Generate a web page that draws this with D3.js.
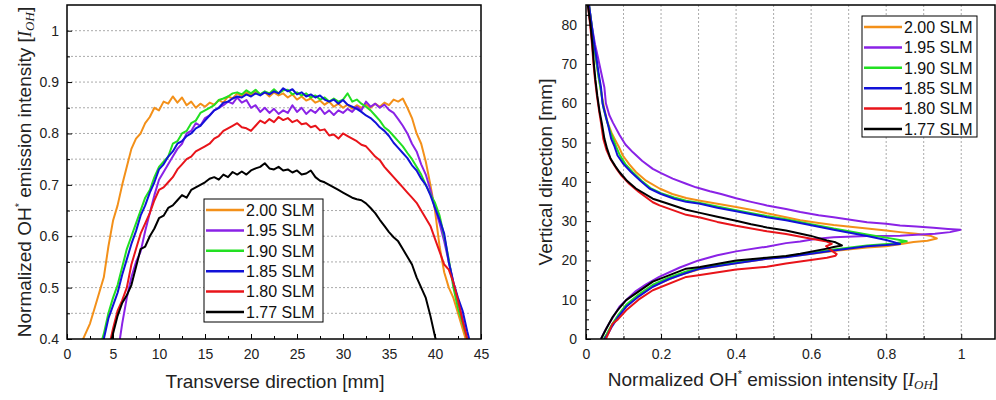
<!DOCTYPE html>
<html>
<head>
<meta charset="utf-8">
<script src="https://cdn.jsdelivr.net/npm/d3@7"></script>
<style>
  body { margin: 0; background: #fff; }
  svg { display: block; font-family: "Liberation Sans", Arial, sans-serif; }
</style>
</head>
<body>
<div id="chart"></div>
<script>
// ---- data ----
var flowLabels = ["2.00 SLM", "1.95 SLM", "1.90 SLM", "1.85 SLM", "1.80 SLM", "1.77 SLM"];
var lineColors = ["#f39019", "#8a22e6", "#22e022", "#1212d8", "#e8141a", "#000000"];

// left panel: transverse position [mm] and normalized intensity per flow rate
var transverseMm = [1.5, 2, 2.5, 3, 3.5, 4, 4.5, 5, 5.5, 6, 6.5, 7, 7.5, 8, 8.5, 9, 9.5, 10, 10.5, 11,
  11.5, 12, 12.5, 13, 13.5, 14, 14.5, 15, 15.5, 16, 16.5, 17, 17.5, 18, 18.5, 19, 19.5, 20, 20.5, 21,
  21.5, 22, 22.5, 23, 23.5, 24, 24.5, 25, 25.5, 26, 26.5, 27, 27.5, 28, 28.5, 29, 29.5, 30, 30.5, 31,
  31.5, 32, 32.5, 33, 33.5, 34, 34.5, 35, 35.5, 36, 36.5, 37, 37.5, 38, 38.5, 39, 39.5, 40, 40.5, 41,
  41.5, 42, 42.5, 43, 43.5, 44];

var tr200 = [0.39, 0.41, 0.43, 0.46, 0.49, 0.52, 0.58, 0.63, 0.66, 0.70,
  0.735, 0.77, 0.79, 0.80, 0.82, 0.832, 0.85, 0.845, 0.862, 0.858,
  0.872, 0.86, 0.87, 0.855, 0.862, 0.85, 0.858, 0.852, 0.86, 0.856,
  0.865, 0.86, 0.872, 0.868, 0.878, 0.872, 0.88, 0.874, 0.882, 0.876,
  0.88, 0.872, 0.88, 0.874, 0.878, 0.87, 0.876, 0.866, 0.872, 0.864,
  0.868, 0.86, 0.864, 0.856, 0.862, 0.852, 0.858, 0.85, 0.856, 0.848,
  0.855, 0.85, 0.856, 0.85, 0.858, 0.852, 0.86, 0.855, 0.866, 0.862,
  0.868, 0.85, 0.83, 0.80, 0.78, 0.745, 0.70, 0.65, 0.58, 0.53,
  0.50, 0.48, 0.45, 0.42, 0.39, null];
var tr195 = [null, null, null, null, null, null, null, null,
  0.37, 0.43, 0.48, 0.52, 0.55, 0.57, 0.61, 0.645, 0.68, 0.71,
  0.725, 0.74, 0.755, 0.77, 0.78, 0.80, 0.805, 0.82, 0.815, 0.83,
  0.835, 0.845, 0.85, 0.855, 0.862, 0.858, 0.87, 0.86, 0.865, 0.85,
  0.855, 0.842, 0.85, 0.84, 0.848, 0.838, 0.845, 0.84, 0.855, 0.842,
  0.85, 0.838, 0.846, 0.84, 0.85, 0.838, 0.845, 0.836, 0.845, 0.84,
  0.848, 0.842, 0.852, 0.845, 0.862, 0.852, 0.858, 0.85, 0.856, 0.846,
  0.84, 0.828, 0.815, 0.80, 0.78, 0.765, 0.74, 0.72, 0.69, 0.655,
  0.625, 0.59, 0.55, 0.51, 0.475, 0.44, 0.40, 0.38];
var tr190 = [null, null, null, null,
  0.38, 0.41, 0.45, 0.48, 0.505, 0.54, 0.575, 0.60, 0.625, 0.65,
  0.675, 0.69, 0.715, 0.735, 0.745, 0.755, 0.78, 0.785, 0.80, 0.805,
  0.82, 0.825, 0.84, 0.845, 0.85, 0.855, 0.865, 0.868, 0.872, 0.878,
  0.88, 0.876, 0.884, 0.878, 0.885, 0.876, 0.882, 0.878, 0.886, 0.878,
  0.884, 0.885, 0.876, 0.88, 0.874, 0.878, 0.87, 0.874, 0.866, 0.87,
  0.862, 0.868, 0.862, 0.866, 0.878, 0.862, 0.866, 0.858, 0.852, 0.845,
  0.835, 0.825, 0.812, 0.805, 0.795, 0.785, 0.775, 0.762, 0.75, 0.735,
  0.72, 0.70, 0.682, 0.665, 0.64, 0.60, 0.555, 0.50, 0.46, 0.43,
  0.40, 0.38];
var tr185 = [null, null, null, null,
  0.38, 0.40, 0.44, 0.465, 0.49, 0.525, 0.555, 0.585, 0.61, 0.64,
  0.66, 0.685, 0.705, 0.73, 0.74, 0.755, 0.765, 0.78, 0.785, 0.795,
  0.80, 0.81, 0.815, 0.825, 0.835, 0.845, 0.85, 0.86, 0.862, 0.868,
  0.872, 0.87, 0.876, 0.872, 0.878, 0.874, 0.88, 0.876, 0.882, 0.878,
  0.888, 0.882, 0.886, 0.876, 0.88, 0.872, 0.876, 0.87, 0.874, 0.866,
  0.862, 0.866, 0.858, 0.865, 0.856, 0.852, 0.848, 0.842, 0.835, 0.83,
  0.822, 0.812, 0.805, 0.795, 0.782, 0.772, 0.762, 0.752, 0.738, 0.728,
  0.712, 0.70, 0.68, 0.655, 0.632, 0.605, 0.55, 0.51, 0.48, 0.455,
  0.415, 0.38];
var tr180 = [null, null, null, null, null, null,
  0.38, 0.42, 0.455, 0.475, 0.50, 0.545, 0.575, 0.605, 0.625, 0.645,
  0.67, 0.69, 0.695, 0.705, 0.715, 0.73, 0.74, 0.75, 0.755, 0.765,
  0.77, 0.775, 0.78, 0.79, 0.795, 0.805, 0.81, 0.815, 0.82, 0.812,
  0.81, 0.805, 0.815, 0.825, 0.82, 0.828, 0.822, 0.832, 0.826, 0.83,
  0.822, 0.826, 0.818, 0.82, 0.812, 0.815, 0.806, 0.808, 0.796, 0.798,
  0.79, 0.80, 0.795, 0.79, 0.785, 0.778, 0.775, 0.765, 0.755, 0.748,
  0.735, 0.725, 0.715, 0.705, 0.695, 0.685, 0.675, 0.665, 0.65, 0.635,
  0.62, 0.595, 0.57, 0.545, 0.535, 0.51, 0.475, 0.435, 0.40, 0.37];
var tr177 = [null, null, null, null, null, null,
  0.37, 0.41, 0.445, 0.47, 0.485, 0.505, 0.54, 0.575, 0.58, 0.60,
  0.615, 0.635, 0.64, 0.655, 0.66, 0.67, 0.68, 0.675, 0.69, 0.695,
  0.70, 0.705, 0.712, 0.715, 0.71, 0.72, 0.715, 0.725, 0.72, 0.726,
  0.72, 0.728, 0.732, 0.735, 0.742, 0.732, 0.73, 0.735, 0.728, 0.73,
  0.724, 0.728, 0.72, 0.722, 0.728, 0.715, 0.708, 0.705, 0.70, 0.695,
  0.69, 0.685, 0.68, 0.675, 0.672, 0.67, 0.664, 0.655, 0.645, 0.632,
  0.62, 0.608, 0.598, 0.59, 0.575, 0.56, 0.545, 0.52, 0.50, 0.48,
  0.445, 0.405, 0.37,
  null, null, null, null, null, null, null];

// right panel: [normalized intensity, vertical position mm], top to bottom
var vp200 = [[0.008, 85], [0.014, 80], [0.02, 75], [0.027, 71], [0.035, 66], [0.042, 62], [0.05, 58],
  [0.058, 55], [0.068, 52.5], [0.076, 51], [0.087, 49], [0.098, 46.7], [0.115, 44.5], [0.133, 42.5],
  [0.16, 40.3], [0.196, 38.3], [0.23, 36.9], [0.267, 35.9], [0.304, 35.2], [0.35, 34.4], [0.40, 33.6],
  [0.45, 32.7], [0.482, 32.0], [0.533, 31.0], [0.571, 30.2], [0.62, 29.5], [0.66, 29.0], [0.749, 28.1],
  [0.80, 27.6], [0.837, 27.2], [0.88, 26.8], [0.917, 26.3], [0.935, 25.6], [0.91, 25.0], [0.873, 24.7],
  [0.84, 24.2], [0.80, 23.6], [0.749, 23.3], [0.66, 22.4], [0.571, 21.3], [0.482, 20.4], [0.40, 19.3],
  [0.304, 17.8], [0.25, 16.3], [0.178, 13.4], [0.14, 11.0], [0.107, 8.4], [0.085, 5.8], [0.07, 3.6],
  [0.058, 1.6], [0.05, 0]];
var vp195 = [[0.008, 85], [0.015, 80], [0.024, 75], [0.031, 72], [0.04, 68], [0.049, 64], [0.053, 60],
  [0.062, 57], [0.072, 55], [0.089, 52], [0.105, 49.5], [0.125, 47.5], [0.15, 45.3], [0.178, 43.3],
  [0.2, 42.2], [0.231, 40.8], [0.267, 39.5], [0.293, 38.6], [0.33, 37.6], [0.36, 36.9], [0.40, 35.8],
  [0.44, 34.9], [0.482, 34.0], [0.533, 33.1], [0.571, 32.3], [0.62, 31.5], [0.66, 31.0], [0.70, 30.4],
  [0.749, 29.7], [0.80, 29.3], [0.837, 28.9], [0.88, 28.6], [0.926, 28.3], [0.965, 28.0], [0.998, 27.8],
  [0.97, 27.2], [0.93, 26.8], [0.88, 26.5], [0.837, 26.3], [0.749, 26.2], [0.66, 25.9], [0.615, 25.5],
  [0.571, 24.8], [0.533, 24.4], [0.482, 23.5], [0.40, 22.3], [0.35, 21.3], [0.30, 20.0], [0.25, 18.2],
  [0.195, 15.8], [0.16, 13.9], [0.133, 12.2], [0.11, 10.2], [0.089, 8.2], [0.075, 6.0], [0.062, 4.0],
  [0.05, 2.0], [0.04, 0]];
var vp190 = [[0.008, 85], [0.015, 80], [0.021, 75], [0.027, 71], [0.033, 67], [0.04, 63], [0.046, 59],
  [0.054, 56], [0.064, 53], [0.072, 51], [0.08, 49], [0.09, 46.8], [0.105, 44.5], [0.124, 42.5],
  [0.148, 40.3], [0.172, 38.4], [0.2, 37.1], [0.235, 36.0], [0.267, 35.2], [0.304, 34.6], [0.35, 33.7],
  [0.40, 32.8], [0.482, 31.3], [0.533, 30.5], [0.597, 29.3], [0.66, 28.1], [0.749, 26.6], [0.80, 25.8],
  [0.855, 24.9], [0.82, 24.3], [0.749, 23.8], [0.66, 22.8], [0.571, 21.6], [0.533, 21.0], [0.482, 20.6],
  [0.40, 19.6], [0.304, 18.1], [0.267, 17.2], [0.22, 15.6], [0.178, 13.8], [0.14, 11.3], [0.107, 8.7],
  [0.085, 6.0], [0.068, 3.5], [0.055, 1.2], [0.047, 0]];
var vp185 = [[0.008, 85], [0.015, 80], [0.022, 75], [0.027, 72], [0.033, 68], [0.04, 64], [0.044, 60],
  [0.052, 57], [0.06, 54], [0.067, 51], [0.076, 49], [0.084, 46.7], [0.1, 44.5], [0.12, 42.5],
  [0.145, 40.3], [0.169, 38.3], [0.2, 36.9], [0.235, 35.7], [0.267, 34.9], [0.304, 34.4], [0.35, 33.4],
  [0.40, 32.5], [0.482, 31.0], [0.533, 30.2], [0.597, 29.0], [0.66, 27.8], [0.749, 26.2], [0.80, 25.2],
  [0.837, 24.2], [0.80, 23.9], [0.749, 23.6], [0.66, 22.5], [0.571, 21.3], [0.533, 20.8], [0.482, 20.4],
  [0.40, 19.3], [0.304, 17.9], [0.267, 16.8], [0.22, 15.2], [0.178, 13.3], [0.14, 10.8], [0.107, 8.2],
  [0.085, 5.5], [0.068, 3.0], [0.058, 1.2], [0.049, 0]];
var vp180 = [[0.005, 85], [0.011, 80], [0.016, 75], [0.02, 70], [0.024, 66], [0.029, 62], [0.035, 58],
  [0.04, 55], [0.046, 51], [0.055, 48], [0.067, 45.5], [0.08, 43.5], [0.095, 41.5], [0.115, 39.5],
  [0.14, 37.5], [0.178, 34.8], [0.196, 34.0], [0.267, 31.6], [0.304, 30.9], [0.35, 29.8], [0.40, 28.8],
  [0.482, 27.4], [0.533, 26.7], [0.597, 25.6], [0.642, 24.8], [0.655, 24.2], [0.64, 23.6], [0.65, 22.8],
  [0.668, 21.6], [0.665, 21.2], [0.642, 20.7], [0.571, 19.7], [0.533, 19.2], [0.482, 18.4], [0.40, 17.7],
  [0.304, 16.3], [0.267, 15.8], [0.178, 12.4], [0.14, 10.0], [0.107, 7.3], [0.085, 5.0], [0.071, 3.9],
  [0.06, 1.5], [0.053, 0]];
var vp177 = [[0.005, 85], [0.012, 80], [0.017, 75], [0.021, 70], [0.025, 66], [0.03, 62], [0.036, 58],
  [0.042, 55], [0.049, 51], [0.056, 48.5], [0.065, 46], [0.078, 44], [0.089, 42.5], [0.11, 40.2],
  [0.133, 38.3], [0.178, 35.7], [0.213, 34.6], [0.267, 32.9], [0.304, 32.1], [0.35, 31.1], [0.40, 30.1],
  [0.44, 29.2], [0.482, 28.4], [0.533, 27.6], [0.597, 26.3], [0.642, 25.1], [0.665, 24.6], [0.682, 23.8],
  [0.66, 23.4], [0.642, 23.0], [0.571, 21.7], [0.533, 21.1], [0.482, 20.7], [0.40, 20.0], [0.304, 18.3],
  [0.267, 17.9], [0.178, 14.6], [0.107, 9.9], [0.085, 7.4], [0.071, 5.6], [0.055, 2.8], [0.04, 0]];

// ticks
var leftXTicks = [0, 5, 10, 15, 20, 25, 30, 35, 40, 45];
var leftXMinor = [2.5, 7.5, 12.5, 17.5, 22.5, 27.5, 32.5, 37.5, 42.5];
var leftYTicks = [0.4, 0.5, 0.6, 0.7, 0.8, 0.9, 1];
var leftYMinor = [0.45, 0.55, 0.65, 0.75, 0.85, 0.95];
var leftGrid = [0.45, 0.5, 0.55, 0.6, 0.65, 0.7, 0.75, 0.8, 0.85, 0.9, 0.95, 1];
var rightXTicks = [0, 0.2, 0.4, 0.6, 0.8, 1];
var rightXMinor = [0.1, 0.3, 0.5, 0.7, 0.9];
var rightGrid = [0.1, 0.2, 0.3, 0.4, 0.5, 0.6, 0.7, 0.8, 0.9, 1];
var rightYTicks = [0, 10, 20, 30, 40, 50, 60, 70, 80];
var rightYMinor = [2.5, 5, 7.5, 12.5, 15, 17.5, 22.5, 25, 27.5, 32.5, 35, 37.5, 42.5, 45, 47.5,
  52.5, 55, 57.5, 62.5, 65, 67.5, 72.5, 75, 77.5, 82.5];

var transverseSeries = [tr200, tr195, tr190, tr185, tr180, tr177];
var verticalSeries = [vp200, vp195, vp190, vp185, vp180, vp177];

// ---- drawing ----
var svg = d3.select("#chart").append("svg")
    .attr("width", 996)
    .attr("height", 400);

var xL = d3.scaleLinear().domain([0, 45]).range([67, 481]);
var yL = d3.scaleLinear().domain([0.4, 1.05]).range([339, 5]);
var xR = d3.scaleLinear().domain([0, 1.09]).range([586, 995]);
var yR = d3.scaleLinear().domain([0, 85]).range([339, 5]);

var defs = svg.append("defs");
defs.append("clipPath").attr("id", "clipL").append("rect")
    .attr("x", xL(0)).attr("y", yL(1.05))
    .attr("width", xL(45) - xL(0)).attr("height", yL(0.4) - yL(1.05));
defs.append("clipPath").attr("id", "clipR").append("rect")
    .attr("x", xR(0)).attr("y", yR(85))
    .attr("width", xR(1.09) - xR(0)).attr("height", yR(0) - yR(85));

// grid lines
svg.append("g").selectAll("line").data(leftGrid).join("line")
    .attr("x1", xL(0)).attr("x2", xL(45))
    .attr("y1", d => yL(d)).attr("y2", d => yL(d))
    .attr("stroke", "#aaa").attr("stroke-width", 1)
    .attr("stroke-dasharray", "2,2");
svg.append("g").selectAll("line").data(rightGrid).join("line")
    .attr("x1", d => xR(d)).attr("x2", d => xR(d))
    .attr("y1", yR(0)).attr("y2", yR(85))
    .attr("stroke", "#aaa").attr("stroke-width", 1)
    .attr("stroke-dasharray", "2,2");

// left curves
var lineL = d3.line()
    .defined(d => d[1] != null)
    .x(d => xL(d[0]))
    .y(d => yL(d[1]));

var gL = svg.append("g").attr("clip-path", "url(#clipL)");
transverseSeries.forEach(function (vals, i) {
    var pts = transverseMm.map((x, j) => [x, vals[j]]);
    gL.append("path")
        .datum(pts)
        .attr("d", lineL)
        .attr("fill", "none")
        .attr("stroke", lineColors[i])
        .attr("stroke-width", 2)
        .attr("stroke-linejoin", "round");
});

// right curves
var lineR = d3.line()
    .x(d => xR(d[0]))
    .y(d => yR(d[1]));

var gR = svg.append("g").attr("clip-path", "url(#clipR)");
verticalSeries.forEach(function (pts, i) {
    gR.append("path")
        .datum(pts)
        .attr("d", lineR)
        .attr("fill", "none")
        .attr("stroke", lineColors[i])
        .attr("stroke-width", 2)
        .attr("stroke-linejoin", "round");
});

// axes (ticks point inward)
function styleAxis(g) {
    g.select(".domain").remove();
    g.selectAll("line").attr("stroke", "#000").attr("stroke-width", 1);
    g.selectAll("text").attr("font-size", 14).attr("fill", "#222")
        .attr("font-family", "'Liberation Sans', Arial, sans-serif");
}

svg.append("g").attr("transform", "translate(0," + yL(0.4) + ")")
    .call(d3.axisBottom(xL).tickValues(leftXTicks).tickSizeInner(-5).tickSizeOuter(0).tickPadding(10))
    .call(styleAxis);
svg.append("g").attr("transform", "translate(0," + yL(0.4) + ")")
    .call(d3.axisBottom(xL).tickValues(leftXMinor).tickSizeInner(-3).tickSizeOuter(0).tickFormat(""))
    .call(styleAxis);
svg.append("g").attr("transform", "translate(" + xL(0) + ",0)")
    .call(d3.axisLeft(yL).tickValues(leftYTicks).tickSizeInner(-5).tickSizeOuter(0).tickPadding(8)
        .tickFormat(d => d === 1 ? "1" : d3.format(".1f")(d)))
    .call(styleAxis);
svg.append("g").attr("transform", "translate(" + xL(0) + ",0)")
    .call(d3.axisLeft(yL).tickValues(leftYMinor).tickSizeInner(-3).tickSizeOuter(0).tickFormat(""))
    .call(styleAxis);

svg.append("g").attr("transform", "translate(0," + yR(0) + ")")
    .call(d3.axisBottom(xR).tickValues(rightXTicks).tickSizeInner(-5).tickSizeOuter(0).tickPadding(10)
        .tickFormat(d => d === 0 ? "0" : d === 1 ? "1" : d3.format(".1f")(d)))
    .call(styleAxis);
svg.append("g").attr("transform", "translate(0," + yR(0) + ")")
    .call(d3.axisBottom(xR).tickValues(rightXMinor).tickSizeInner(-3).tickSizeOuter(0).tickFormat(""))
    .call(styleAxis);
svg.append("g").attr("transform", "translate(" + xR(0) + ",0)")
    .call(d3.axisLeft(yR).tickValues(rightYTicks).tickSizeInner(-5).tickSizeOuter(0).tickPadding(9))
    .call(styleAxis);
svg.append("g").attr("transform", "translate(" + xR(0) + ",0)")
    .call(d3.axisLeft(yR).tickValues(rightYMinor).tickSizeInner(-3).tickSizeOuter(0).tickFormat(""))
    .call(styleAxis);

// frames
svg.append("rect")
    .attr("x", xL(0)).attr("y", yL(1.05))
    .attr("width", xL(45) - xL(0)).attr("height", yL(0.4) - yL(1.05))
    .attr("fill", "none").attr("stroke", "#000").attr("stroke-width", 1.5);
svg.append("rect")
    .attr("x", xR(0)).attr("y", yR(85))
    .attr("width", xR(1.09) - xR(0)).attr("height", yR(0) - yR(85))
    .attr("fill", "none").attr("stroke", "#000").attr("stroke-width", 1.5);

// axis titles
function intensityTitle(t) {
    t.append("tspan").text("Normalized OH");
    t.append("tspan").text("*").attr("font-size", 11).attr("dy", -8);
    t.append("tspan").text(" emission intensity [").attr("dy", 8);
    t.append("tspan").text("I").attr("font-family", "'Liberation Serif', serif").attr("font-style", "italic");
    t.append("tspan").text("OH").attr("font-family", "'Liberation Serif', serif").attr("font-style", "italic")
        .attr("font-size", 13).attr("dy", 3);
    t.append("tspan").text("]").attr("dy", -3);
}

svg.append("text")
    .attr("transform", "translate(" + 31 + "," + 172 + ") rotate(-90)")
    .attr("text-anchor", "middle")
    .attr("font-size", 19).attr("fill", "#222")
    .call(intensityTitle);

svg.append("text")
    .attr("x", 275).attr("y", 388)
    .attr("text-anchor", "middle")
    .attr("font-size", 19).attr("fill", "#222")
    .text("Transverse direction [mm]");

svg.append("text")
    .attr("transform", "translate(" + 552 + "," + 172 + ") rotate(-90)")
    .attr("text-anchor", "middle")
    .attr("font-size", 19).attr("fill", "#222")
    .text("Vertical direction [mm]");

svg.append("text")
    .attr("x", 773).attr("y", 386)
    .attr("text-anchor", "middle")
    .attr("font-size", 19).attr("fill", "#222")
    .call(intensityTitle);

// legends
function drawLegend(x0, y0, w, h) {
    var g = svg.append("g").attr("transform", "translate(" + x0 + "," + y0 + ")");
    g.append("rect").attr("width", w).attr("height", h)
        .attr("fill", "#fff").attr("stroke", "#000").attr("stroke-width", 1);
    flowLabels.forEach(function (lab, i) {
        var yy = 11 + i * 20.4;
        g.append("line")
            .attr("x1", 2).attr("x2", 40).attr("y1", yy).attr("y2", yy)
            .attr("stroke", lineColors[i]).attr("stroke-width", 2.5);
        g.append("text")
            .attr("x", 42).attr("y", yy).attr("dy", "0.36em")
            .attr("font-size", 16).attr("fill", "#111")
            .text(lab);
    });
}
drawLegend(204, 199, 119, 123);
drawLegend(862, 16, 115, 121);
</script>
</body>
</html>
